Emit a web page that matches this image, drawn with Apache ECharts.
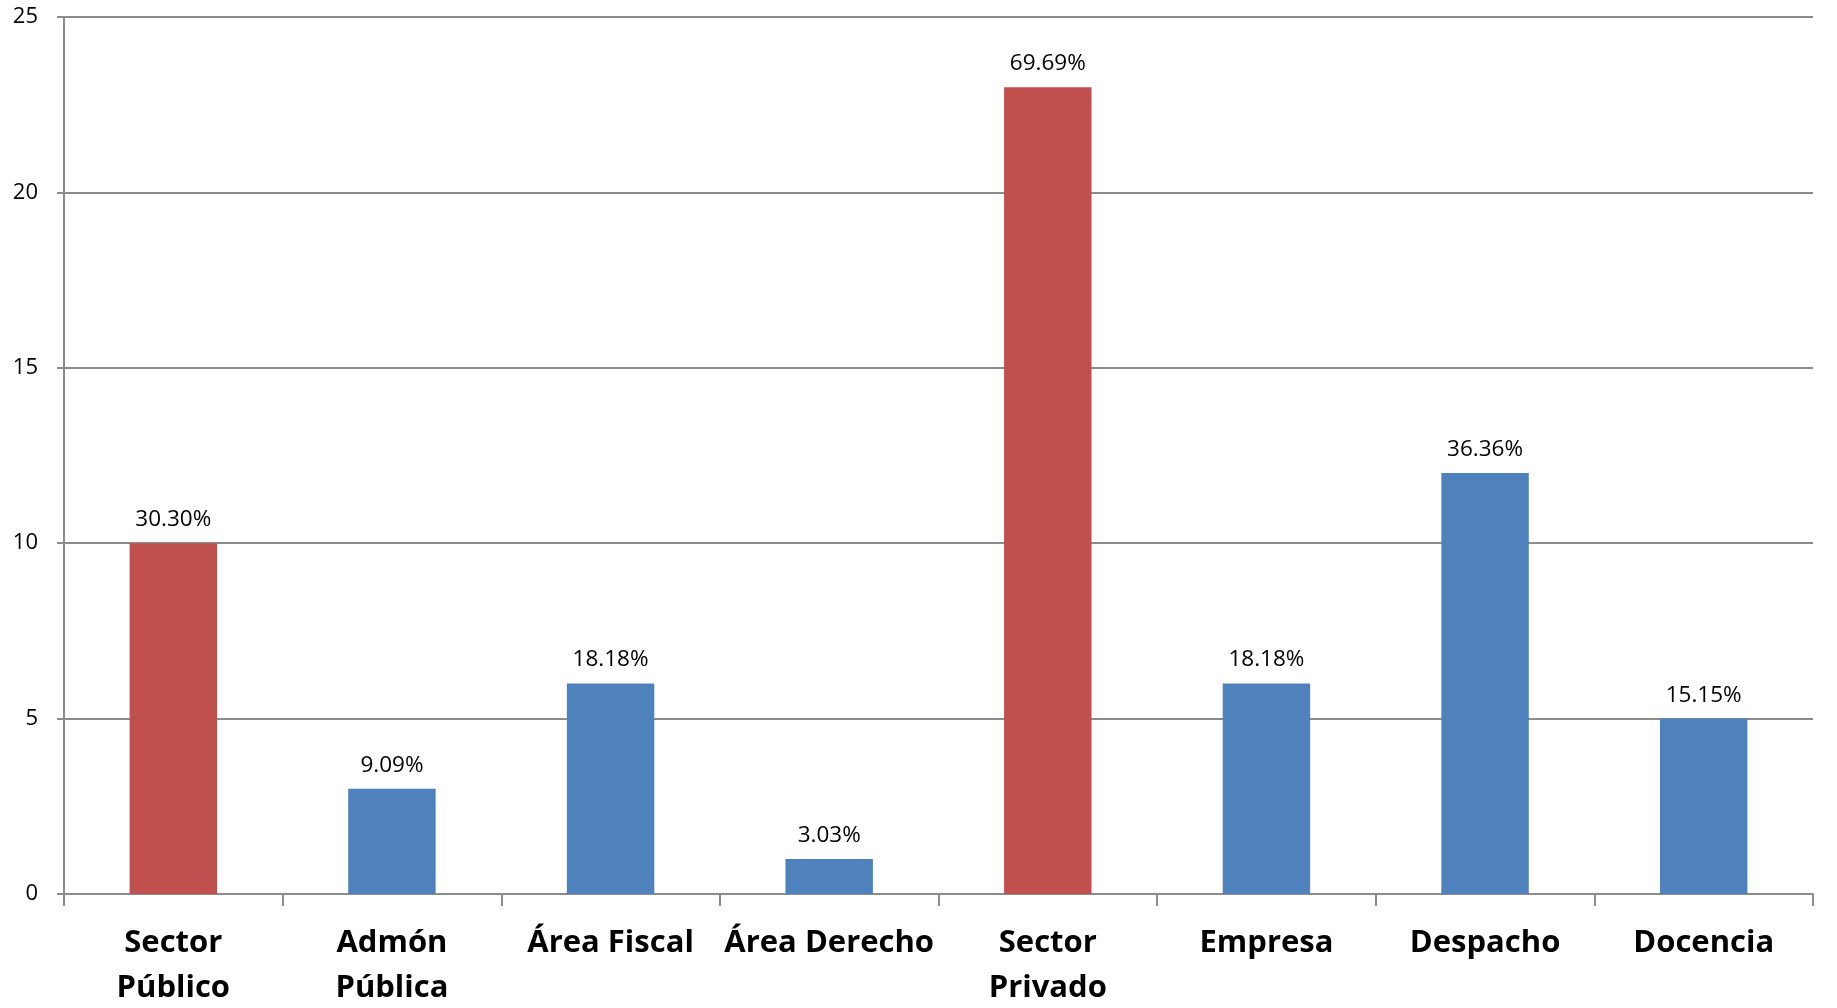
<!DOCTYPE html>
<html>
<head>
<meta charset="utf-8">
<script src="https://cdn.jsdelivr.net/npm/echarts@6/dist/echarts.min.js"></script>
<style>
    html, body { margin: 0; padding: 0; background: #fff; }
    #chart { width: 1837px; height: 1008px; }
</style>
</head>
<body>
<div id="chart"></div>
<script>
// datos
const categorias = ['Sector\nPúblico', 'Admón\nPública', 'Área Fiscal', 'Área Derecho', 'Sector\nPrivado', 'Empresa', 'Despacho', 'Docencia'];
const valores = [10, 3, 6, 1, 23, 6, 12, 5];
const porcentajes = ['30.30%', '9.09%', '18.18%', '3.03%', '69.69%', '18.18%', '36.36%', '15.15%'];
const esSector = [true, false, false, false, true, false, false, false];

const rojo = '#C0504D';
const azul = '#4F81BD';
const gris = '#8c8c8c';

var myChart = echarts.init(document.getElementById('chart'));

var datos = valores.map(function (v, i) {
    return {
        value: v,
        itemStyle: { color: esSector[i] ? rojo : azul }
    };
});

var option = {
    animation: false,
    grid: {
        left: 64,
        right: 24,
        top: 17,
        bottom: 114,
        outerBoundsMode: 'none'
    },
    xAxis: {
        type: 'category',
        data: categorias,
        axisLine: { lineStyle: { color: gris, width: 2 } },
        axisTick: { show: true, length: 12, lineStyle: { color: gris, width: 2 } },
        axisLabel: {
            color: '#000',
            fontFamily: 'Open Sans',
            fontWeight: 'bold',
            fontSize: 31,
            lineHeight: 45,
            margin: 27,
            interval: 0
        }
    },
    yAxis: {
        type: 'value',
        min: 0,
        max: 25,
        interval: 5,
        axisLine: { show: true, lineStyle: { color: gris, width: 2 } },
        axisTick: { show: true, length: 7, lineStyle: { color: gris, width: 2 } },
        axisLabel: {
            color: '#000',
            fontFamily: 'Open Sans',
            fontSize: 22,
            margin: 26
        },
        splitLine: { lineStyle: { color: gris, width: 2 } }
    },
    series: [
        {
            type: 'bar',
            data: datos,
            barWidth: '40%',
            label: {
                show: true,
                position: 'top',
                distance: 12,
                color: '#000',
                fontFamily: 'Open Sans',
                fontSize: 22.5,
                formatter: function (p) {
                    return porcentajes[p.dataIndex];
                }
            }
        }
    ]
};

myChart.setOption(option);
</script>
</body>
</html>
